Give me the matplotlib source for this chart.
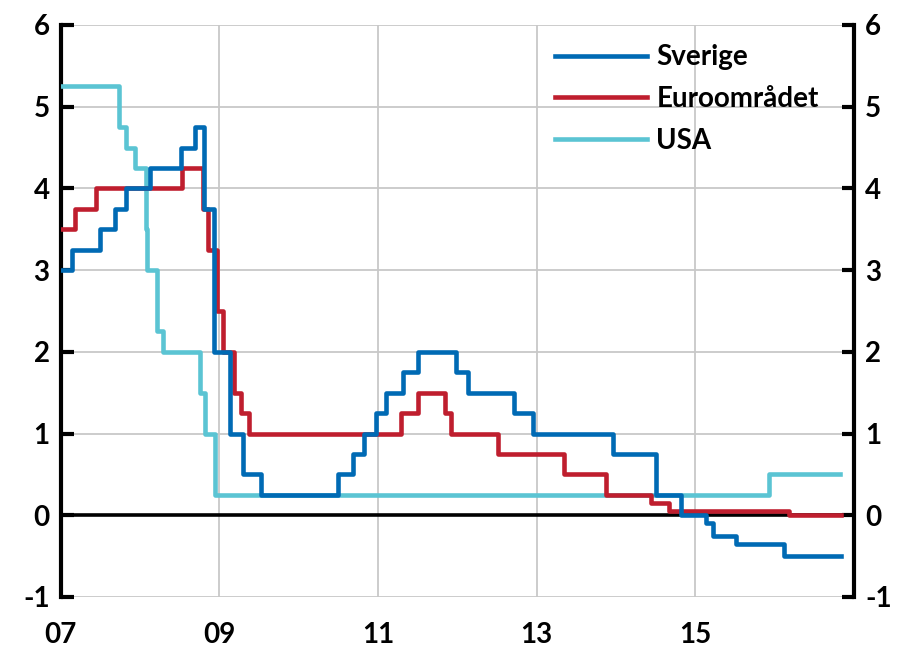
import numpy as np
import matplotlib.pyplot as plt

# Styrräntor (procent), trappsteg vid ändringsdatum (decimalår)
years_se = [2007.0, 2007.14, 2007.5, 2007.69, 2007.83, 2008.13, 2008.52, 2008.70, 2008.81, 2008.93,
            2009.14, 2009.30, 2009.52, 2010.50, 2010.68, 2010.82, 2010.97, 2011.10, 2011.31, 2011.51,
            2011.98, 2012.13, 2012.71, 2012.96, 2013.96, 2014.51, 2014.82, 2015.13, 2015.22, 2015.51,
            2016.12, 2016.84]
rates_se = [3.0, 3.25, 3.5, 3.75, 4.0, 4.25, 4.5, 4.75, 3.75, 2.0,
            1.0, 0.5, 0.25, 0.5, 0.75, 1.0, 1.25, 1.5, 1.75, 2.0,
            1.75, 1.5, 1.25, 1.0, 0.75, 0.25, 0.0, -0.1, -0.25, -0.35,
            -0.5, -0.5]

years_eu = [2007.0, 2007.18, 2007.45, 2008.53, 2008.80, 2008.86, 2008.97, 2009.05, 2009.18, 2009.27,
            2009.37, 2011.29, 2011.51, 2011.85, 2011.92, 2012.51, 2013.35, 2013.87, 2014.44, 2014.67,
            2016.18, 2016.84]
rates_eu = [3.5, 3.75, 4.0, 4.25, 3.75, 3.25, 2.5, 2.0, 1.5, 1.25,
            1.0, 1.25, 1.5, 1.25, 1.0, 0.75, 0.5, 0.25, 0.15, 0.05,
            0.0, 0.0]

years_us = [2007.0, 2007.73, 2007.83, 2007.94, 2008.07, 2008.09, 2008.21, 2008.29, 2008.76, 2008.82,
            2008.95, 2015.93, 2016.82]
rates_us = [5.25, 4.75, 4.5, 4.25, 3.5, 3.0, 2.25, 2.0, 1.5, 1.0,
            0.25, 0.5, 0.5]

xtick_pos = [2007, 2009, 2011, 2013, 2015]
xtick_labels = ['07', '09', '11', '13', '15']
yticks = [-1, 0, 1, 2, 3, 4, 5, 6]

plt.rcParams['font.family'] = ['Lato', 'DejaVu Sans']
plt.rcParams['font.weight'] = 'bold'
plt.rcParams['font.size'] = 20
plt.rcParams['axes.unicode_minus'] = False

fig = plt.figure(figsize=(8.97, 6.51), dpi=100)
ax = fig.add_axes([0.0676, 0.083, 0.8844, 0.8786])

ax.axhline(0, color='black', lw=2.6, zorder=2)
ax.plot(years_us, rates_us, drawstyle='steps-post', color='#5bc4d3', lw=3.3, label='USA', zorder=3)
ax.plot(years_eu, rates_eu, drawstyle='steps-post', color='#bf1e2e', lw=3.3, label='Euroområdet', zorder=4)
ax.plot(years_se, rates_se, drawstyle='steps-post', color='#006ab4', lw=3.3, label='Sverige', zorder=5)

ax.set_xlim(2007, 2017)
ax.set_ylim(-1, 6)
ax.set_xticks(xtick_pos + [2017])
ax.set_xticklabels(xtick_labels + [''])
ax.set_yticks(yticks)

ax.grid(True, color='#c8c8c8', lw=1.3)
ax.set_axisbelow(True)

for s in ['top', 'bottom']:
    ax.spines[s].set_visible(False)
for s in ['left', 'right']:
    ax.spines[s].set_linewidth(3)

ax.tick_params(axis='x', length=0, pad=18)
ax.tick_params(axis='y', direction='in', length=9, width=3, left=True, right=True,
               labelleft=True, labelright=True, pad=8)

h, l = ax.get_legend_handles_labels()
ax.legend(h[::-1], l[::-1], loc='upper left', bbox_to_anchor=(0.623, 0.966), frameon=False,
          borderpad=0, borderaxespad=0, handlelength=3.3, handletextpad=0.35, labelspacing=0.56)

fig.savefig('out.png', dpi=100)
